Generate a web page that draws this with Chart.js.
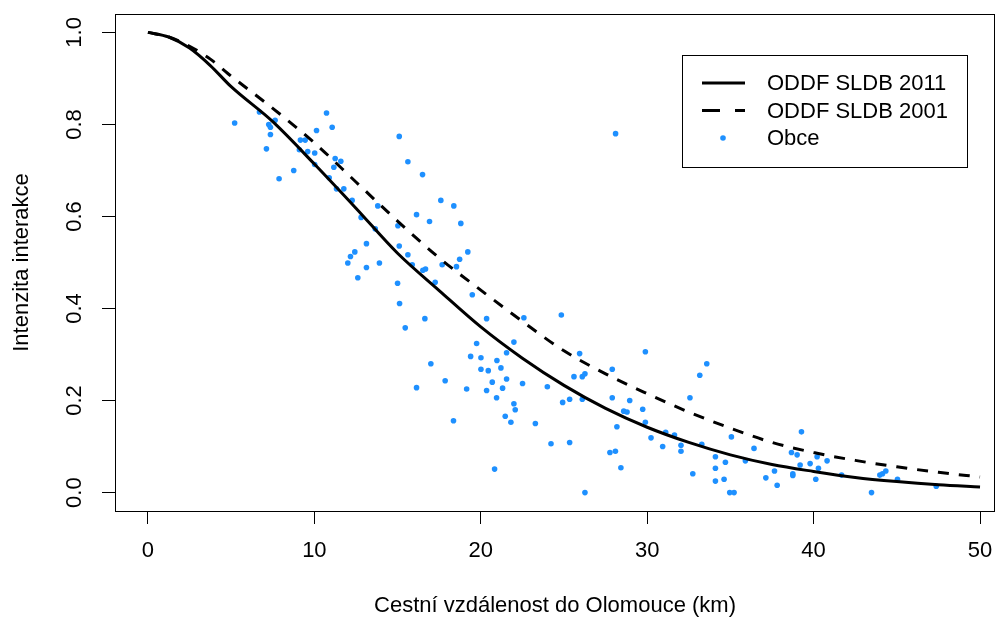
<!DOCTYPE html>
<html>
<head>
<meta charset="utf-8">
<script src="https://cdn.jsdelivr.net/npm/chart.js@4"></script>
<style>
  body { margin: 0; background: #fff; }
  #wrap { width: 1000px; height: 619px; }
</style>
</head>
<body>
<div id="wrap"><canvas id="chart" width="1000" height="619"></canvas></div>
<script>
// axis ticks
const xTicks = [0, 10, 20, 30, 40, 50];
const yTicks = [0, 0.2, 0.4, 0.6, 0.8, 1.0];

// fitted distance decay curves
const curveKm = [0, 1.25, 2.5, 3.75, 5, 7.5, 10, 12.5, 15, 17.5, 20, 22.5, 25, 27.5, 30, 32.5, 35, 37.5, 40, 42.5, 45, 47.5, 50];
const oddf2011 = [1.0, 0.99, 0.966, 0.928, 0.882, 0.806, 0.714, 0.618, 0.52, 0.439, 0.36, 0.292, 0.233, 0.183, 0.142, 0.109, 0.082, 0.061, 0.046, 0.033, 0.024, 0.017, 0.012];
const oddf2001 = [1.0, 0.99, 0.97, 0.942, 0.905, 0.835, 0.76, 0.675, 0.59, 0.51, 0.44, 0.372, 0.308, 0.258, 0.215, 0.175, 0.14, 0.109, 0.087, 0.07, 0.056, 0.044, 0.034];

// municipalities: road distance (km) and interaction intensity
const obceKm = [5.21, 6.70, 7.26, 7.36, 7.64, 7.36, 7.12, 7.88, 8.76, 9.16, 9.45, 9.10, 9.60, 10.02, 10.13, 10.73, 11.07, 10.02, 11.25, 11.17,
  11.59, 10.89, 11.33, 11.77, 12.27, 13.81, 12.81, 13.66, 15.10, 15.02, 15.10, 13.13, 12.43, 12.17, 12.01, 13.13, 13.91, 12.61, 15.00, 15.62,
  16.50, 16.14, 16.92, 17.60, 18.38, 18.80, 19.22, 18.73, 18.54, 17.68, 16.52, 16.68, 15.62, 15.88, 17.26, 15.12, 16.64, 19.49, 20.35, 15.46,
  22.59, 24.84, 21.99, 19.75, 19.39, 20.01, 20.97, 21.55, 21.21, 20.01, 20.45, 17.00, 17.86, 16.14, 19.15, 20.69, 21.55, 21.31, 20.35, 20.95,
  22.51, 21.99, 22.07, 21.47, 21.81, 18.36, 23.28, 24.00, 24.92, 25.34, 26.10, 25.60, 26.10, 26.26, 25.94, 24.22, 25.34, 20.83, 26.26, 27.90,
  29.89, 27.90, 28.95, 28.59, 28.79, 29.73, 28.18, 29.89, 30.23, 30.93, 27.76, 28.09, 28.42, 31.11, 31.64, 32.03, 32.03, 32.57, 33.16, 33.58,
  33.28, 32.74, 34.10, 34.10, 34.70, 34.10, 34.62, 34.96, 35.22, 35.06, 35.90, 36.42, 37.13, 37.65, 37.81, 38.67, 39.01, 39.27, 39.19, 38.75,
  38.75, 39.79, 40.21, 40.29, 40.13, 40.81, 41.68, 43.48, 43.98, 44.14, 44.34, 45.04, 47.37, 28.10];
const obceInt = [0.803, 0.827, 0.800, 0.794, 0.809, 0.778, 0.747, 0.682, 0.700, 0.766, 0.766, 0.745, 0.741, 0.738, 0.787, 0.825, 0.794, 0.713, 0.726, 0.707,
  0.720, 0.684, 0.660, 0.660, 0.635, 0.623, 0.598, 0.573, 0.774, 0.580, 0.536, 0.541, 0.523, 0.513, 0.499, 0.489, 0.499, 0.467, 0.455, 0.719,
  0.691, 0.604, 0.589, 0.635, 0.623, 0.585, 0.523, 0.507, 0.491, 0.495, 0.483, 0.486, 0.517, 0.495, 0.457, 0.411, 0.378, 0.430, 0.378, 0.358,
  0.380, 0.386, 0.327, 0.324, 0.296, 0.293, 0.287, 0.304, 0.271, 0.268, 0.265, 0.280, 0.243, 0.228, 0.225, 0.240, 0.247, 0.227, 0.222, 0.206,
  0.237, 0.193, 0.180, 0.166, 0.153, 0.156, 0.150, 0.230, 0.196, 0.203, 0.203, 0.252, 0.252, 0.258, 0.302, 0.106, 0.109, 0.051, 0.000, 0.268,
  0.306, 0.206, 0.200, 0.177, 0.175, 0.181, 0.143, 0.153, 0.119, 0.100, 0.087, 0.090, 0.054, 0.131, 0.125, 0.103, 0.090, 0.206, 0.255, 0.280,
  0.105, 0.041, 0.078, 0.053, 0.066, 0.025, 0.029, 0.000, 0.000, 0.121, 0.069, 0.096, 0.032, 0.047, 0.016, 0.087, 0.082, 0.132, 0.060, 0.041,
  0.037, 0.063, 0.078, 0.053, 0.029, 0.069, 0.038, 0.000, 0.038, 0.041, 0.047, 0.029, 0.014, 0.780];

const FONT = "'Liberation Sans', Arial, sans-serif";
const BLUE = '#1E90FF';

const toXY = (xs, ys) => xs.map((x, i) => ({ x: x, y: ys[i] }));

// frame box, rotated y tick labels and the legend, R style
const rStyle = {
  id: 'rStyle',
  afterDraw(chart) {
    const ctx = chart.ctx;
    const a = chart.chartArea;
    const yScale = chart.scales.y;
    ctx.save();
    ctx.strokeStyle = '#000';
    ctx.lineWidth = 1;
    ctx.setLineDash([]);
    ctx.strokeRect(a.left + 0.5, a.top + 0.5, a.right - a.left - 1, a.bottom - a.top);

    // y tick labels, reading upwards
    ctx.fillStyle = '#000';
    ctx.font = '22px ' + FONT;
    ctx.textAlign = 'center';
    ctx.textBaseline = 'middle';
    yTicks.forEach(v => {
      const py = yScale.getPixelForValue(v);
      ctx.save();
      ctx.translate(75, py);
      ctx.rotate(-Math.PI / 2);
      ctx.fillText(v.toFixed(1), 0, 0);
      ctx.restore();
    });

    // legend
    const ds = chart.data.datasets;
    ctx.lineWidth = 1;
    ctx.strokeRect(682.5, 55.5, 285, 112);
    const rows = [83, 110.5, 138];
    ctx.textAlign = 'left';
    ctx.lineWidth = 3;
    ctx.lineCap = 'butt';
    ctx.beginPath();
    ctx.moveTo(702, rows[0]);
    ctx.lineTo(745, rows[0]);
    ctx.stroke();
    ctx.beginPath();
    ctx.moveTo(702, rows[1]);
    ctx.lineTo(720, rows[1]);
    ctx.moveTo(735, rows[1]);
    ctx.lineTo(745, rows[1]);
    ctx.stroke();
    ctx.fillStyle = BLUE;
    ctx.beginPath();
    ctx.arc(723, rows[2], 2.8, 0, Math.PI * 2);
    ctx.fill();
    ctx.fillStyle = '#000';
    ds.forEach((d, i) => ctx.fillText(d.label, 767, rows[i] + 1));
    ctx.restore();
  }
};

new Chart(document.getElementById('chart'), {
  type: 'scatter',
  plugins: [rStyle],
  data: {
    datasets: [
      {
        label: 'ODDF SLDB 2011',
        data: toXY(curveKm, oddf2011),
        showLine: true,
        borderColor: '#000',
        borderWidth: 3,
        pointRadius: 0,
        cubicInterpolationMode: 'monotone',
      },
      {
        label: 'ODDF SLDB 2001',
        data: toXY(curveKm, oddf2001),
        showLine: true,
        borderColor: '#000',
        borderWidth: 3,
        borderDash: [11, 10],
        borderCapStyle: 'butt',
        pointRadius: 0,
        cubicInterpolationMode: 'monotone',
      },
      {
        label: 'Obce',
        data: toXY(obceKm, obceInt),
        backgroundColor: BLUE,
        borderWidth: 0,
        pointRadius: 2.8,
      },
    ],
  },
  options: {
    responsive: false,
    animation: false,
    layout: { padding: { top: 14, right: 5, left: 0, bottom: 0 } },
    plugins: {
      legend: { display: false },
      tooltip: { enabled: false },
    },
    scales: {
      x: {
        type: 'linear',
        min: -1.98,
        max: 50.9,
        afterBuildTicks: s => { s.ticks = xTicks.map(v => ({ value: v })); },
        afterFit: s => { s.height = 108; s.paddingLeft = 0; s.paddingRight = 0; },
        border: { display: false },
        grid: { drawOnChartArea: false, drawTicks: true, tickLength: 13, color: '#000', lineWidth: 1 },
        ticks: { color: '#000', font: { family: FONT, size: 22 }, padding: 14, maxRotation: 0 },
        title: {
          display: true,
          text: 'Cestní vzdálenost do Olomouce (km)',
          color: '#000',
          font: { family: FONT, size: 22 },
          padding: { top: 0, bottom: 0 },
        },
      },
      y: {
        type: 'linear',
        min: -0.04,
        max: 1.04,
        afterBuildTicks: s => { s.ticks = yTicks.map(v => ({ value: v })); },
        afterFit: s => { s.width = 115; },
        border: { display: false },
        grid: { drawOnChartArea: false, drawTicks: true, tickLength: 13, color: '#000', lineWidth: 1 },
        ticks: { display: false },
        title: {
          display: true,
          text: 'Intenzita interakce',
          color: '#000',
          font: { family: FONT, size: 22 },
          padding: { top: 9, bottom: 0 },
        },
      },
    },
  },
});
</script>
</body>
</html>
